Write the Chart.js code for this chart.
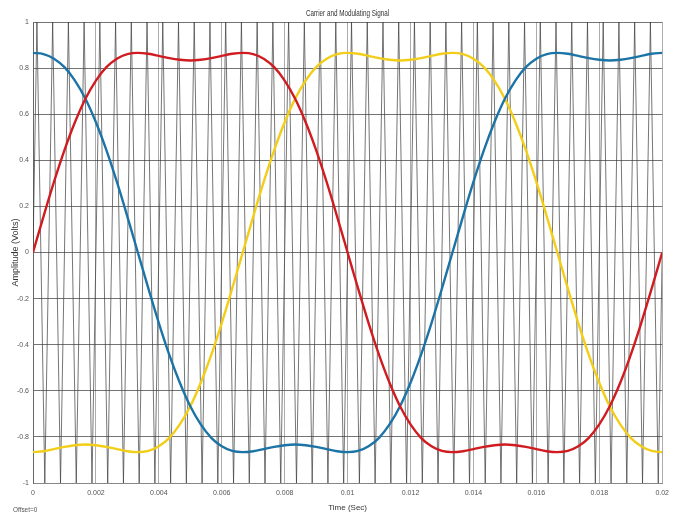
<!DOCTYPE html>
<html>
<head>
<meta charset="utf-8">
<script src="https://cdn.jsdelivr.net/npm/chart.js@4"></script>
<style>
  html, body { margin: 0; padding: 0; background: #ffffff; }
  #wrap { width: 675px; height: 514px; position: relative; }
</style>
</head>
<body>
<div id="wrap"><canvas id="c" width="675" height="514"></canvas></div>
<script>
// ---- data ----
const chartTitle = "Carrier and Modulating Signal";
const xTitle = "Time (Sec)";
const yTitle = "Amplitude (Volts)";
const footNote = "Offset=0";

const xTicks = [0, 0.002, 0.004, 0.006, 0.008, 0.01, 0.012, 0.014, 0.016, 0.018, 0.02];
const yTicks = [-1, -0.8, -0.6, -0.4, -0.2, 0, 0.2, 0.4, 0.6, 0.8, 1];

const signalTimes = [0, 0.000333, 0.000667, 0.001, 0.001333, 0.001667, 0.002, 0.002333, 0.002667, 0.003,
  0.003333, 0.003667, 0.004, 0.004333, 0.004667, 0.005, 0.005333, 0.005667, 0.006, 0.006333,
  0.006667, 0.007, 0.007333, 0.007667, 0.008, 0.008333, 0.008667, 0.009, 0.009333, 0.009667,
  0.01, 0.010333, 0.010667, 0.011, 0.011333, 0.011667, 0.012, 0.012333, 0.012667, 0.013,
  0.013333, 0.013667, 0.014, 0.014333, 0.014667, 0.015, 0.015333, 0.015667, 0.016, 0.016333,
  0.016667, 0.017, 0.017333, 0.017667, 0.018, 0.018333, 0.018667, 0.019, 0.019333, 0.019667, 0.02];

const redPhase = [0, 0.156, 0.306, 0.444, 0.565, 0.667, 0.746, 0.804, 0.841, 0.861,
  0.866, 0.862, 0.853, 0.843, 0.836, 0.833, 0.836, 0.843, 0.853, 0.862,
  0.866, 0.861, 0.841, 0.804, 0.746, 0.667, 0.565, 0.444, 0.306, 0.156,
  0, -0.156, -0.306, -0.444, -0.565, -0.667, -0.746, -0.804, -0.841, -0.861,
  -0.866, -0.862, -0.853, -0.843, -0.836, -0.833, -0.836, -0.843, -0.853, -0.862,
  -0.866, -0.861, -0.841, -0.804, -0.746, -0.667, -0.565, -0.444, -0.306, -0.156, 0];

const bluePhase = [0.866, 0.861, 0.841, 0.804, 0.746, 0.667, 0.565, 0.444, 0.306, 0.156,
  0, -0.156, -0.306, -0.444, -0.565, -0.667, -0.746, -0.804, -0.841, -0.861,
  -0.866, -0.862, -0.853, -0.843, -0.836, -0.833, -0.836, -0.843, -0.853, -0.862,
  -0.866, -0.861, -0.841, -0.804, -0.746, -0.667, -0.565, -0.444, -0.306, -0.156,
  0, 0.156, 0.306, 0.444, 0.565, 0.667, 0.746, 0.804, 0.841, 0.861,
  0.866, 0.862, 0.853, 0.843, 0.836, 0.833, 0.836, 0.843, 0.853, 0.862, 0.866];

const yellowPhase = [-0.866, -0.862, -0.853, -0.843, -0.836, -0.833, -0.836, -0.843, -0.853, -0.862,
  -0.866, -0.861, -0.841, -0.804, -0.746, -0.667, -0.565, -0.444, -0.306, -0.156,
  0, 0.156, 0.306, 0.444, 0.565, 0.667, 0.746, 0.804, 0.841, 0.861,
  0.866, 0.862, 0.853, 0.843, 0.836, 0.833, 0.836, 0.843, 0.853, 0.862,
  0.866, 0.861, 0.841, 0.804, 0.746, 0.667, 0.565, 0.444, 0.306, 0.156,
  0, -0.156, -0.306, -0.444, -0.565, -0.667, -0.746, -0.804, -0.841, -0.861, -0.866];

const carrierTimes = [0,
  0.000125, 0.000375, 0.000625, 0.000875, 0.001125, 0.001375, 0.001625, 0.001875,
  0.002125, 0.002375, 0.002625, 0.002875, 0.003125, 0.003375, 0.003625, 0.003875,
  0.004125, 0.004375, 0.004625, 0.004875, 0.005125, 0.005375, 0.005625, 0.005875,
  0.006125, 0.006375, 0.006625, 0.006875, 0.007125, 0.007375, 0.007625, 0.007875,
  0.008125, 0.008375, 0.008625, 0.008875, 0.009125, 0.009375, 0.009625, 0.009875,
  0.010125, 0.010375, 0.010625, 0.010875, 0.011125, 0.011375, 0.011625, 0.011875,
  0.012125, 0.012375, 0.012625, 0.012875, 0.013125, 0.013375, 0.013625, 0.013875,
  0.014125, 0.014375, 0.014625, 0.014875, 0.015125, 0.015375, 0.015625, 0.015875,
  0.016125, 0.016375, 0.016625, 0.016875, 0.017125, 0.017375, 0.017625, 0.017875,
  0.018125, 0.018375, 0.018625, 0.018875, 0.019125, 0.019375, 0.019625, 0.019875,
  0.02];

const carrierValues = [0,
  1, -1, 1, -1, 1, -1, 1, -1,
  1, -1, 1, -1, 1, -1, 1, -1,
  1, -1, 1, -1, 1, -1, 1, -1,
  1, -1, 1, -1, 1, -1, 1, -1,
  1, -1, 1, -1, 1, -1, 1, -1,
  1, -1, 1, -1, 1, -1, 1, -1,
  1, -1, 1, -1, 1, -1, 1, -1,
  1, -1, 1, -1, 1, -1, 1, -1,
  1, -1, 1, -1, 1, -1, 1, -1,
  1, -1, 1, -1, 1, -1, 1, -1,
  0];

// ---- chart ----
const FONT = "'Liberation Sans Narrow', 'Liberation Sans', Arial, sans-serif";
const pts = (xs, ys) => xs.map((x, i) => ({ x: x, y: ys[i] }));

const textPlugin = {
  id: 'extraText',
  afterDraw(chart) {
    const ctx = chart.ctx;
    const a = chart.chartArea;
    ctx.save();
    ctx.fillStyle = '#333333';
    ctx.font = '9px ' + FONT;
    ctx.textAlign = 'center';
    ctx.textBaseline = 'middle';
    ctx.translate((a.left + a.right) / 2, 14);
    ctx.scale(0.7, 1);
    ctx.fillText(chartTitle, 0, 0);
    ctx.restore();
    ctx.save();
    ctx.textAlign = 'left';
    ctx.textBaseline = 'middle';
    ctx.fillStyle = '#555555';
    ctx.font = '8px ' + FONT;
    ctx.translate(13, 510);
    ctx.scale(0.8, 1);
    ctx.fillText(footNote, 0, 0);
    ctx.restore();
  }
};

const fmt = v => {
  const r = Math.round(v * 1000) / 1000;
  return (r === 0 ? 0 : r).toString();
};

new Chart(document.getElementById('c'), {
  type: 'line',
  data: {
    datasets: [
      { label: 'Phase A', data: pts(signalTimes, redPhase), borderColor: 'rgb(208,28,32)', borderWidth: 2.4, pointRadius: 0, cubicInterpolationMode: 'monotone', order: 1 },
      { label: 'Phase B', data: pts(signalTimes, bluePhase), borderColor: 'rgb(28,116,166)', borderWidth: 2.4, pointRadius: 0, cubicInterpolationMode: 'monotone', order: 2 },
      { label: 'Phase C', data: pts(signalTimes, yellowPhase), borderColor: 'rgb(242,206,24)', borderWidth: 2.4, pointRadius: 0, cubicInterpolationMode: 'monotone', order: 3 },
      { label: 'Carrier', data: pts(carrierTimes, carrierValues), borderColor: 'rgba(60,60,60,0.7)', borderWidth: 1, pointRadius: 0, tension: 0, order: 4 }
    ]
  },
  options: {
    responsive: false,
    animation: false,
    devicePixelRatio: 1,
    layout: { padding: { top: 22, right: 12, left: 0, bottom: 0 } },
    plugins: { legend: { display: false }, title: { display: false }, tooltip: { enabled: false } },
    scales: {
      x: {
        type: 'linear', min: 0, max: 0.02,
        afterBuildTicks: s => { s.ticks = xTicks.map(v => ({ value: v })); },
        afterFit: s => { s.height = 31; },
        grid: { color: 'rgba(90,90,90,0.5)', drawTicks: false },
        border: { color: '#888888' },
        ticks: { padding: 6, font: { size: 7, family: FONT }, color: '#555555', maxRotation: 0, callback: v => fmt(v) },
        title: { display: true, text: xTitle, font: { size: 8, family: FONT }, color: '#333333', padding: { top: 1, bottom: 1 } }
      },
      y: {
        type: 'linear', min: -1, max: 1,
        afterBuildTicks: s => { s.ticks = yTicks.map(v => ({ value: v })); },
        afterFit: s => { s.width = 33; },
        grid: { color: 'rgba(70,70,70,0.75)', drawTicks: false },
        border: { color: '#666666' },
        ticks: { padding: 4, font: { size: 7, family: FONT }, color: '#555555', callback: v => fmt(v) },
        title: { display: true, text: yTitle, font: { size: 9, family: FONT }, color: '#333333', padding: { top: 10, bottom: 0 } }
      }
    }
  },
  plugins: [textPlugin]
});
</script>
</body>
</html>
